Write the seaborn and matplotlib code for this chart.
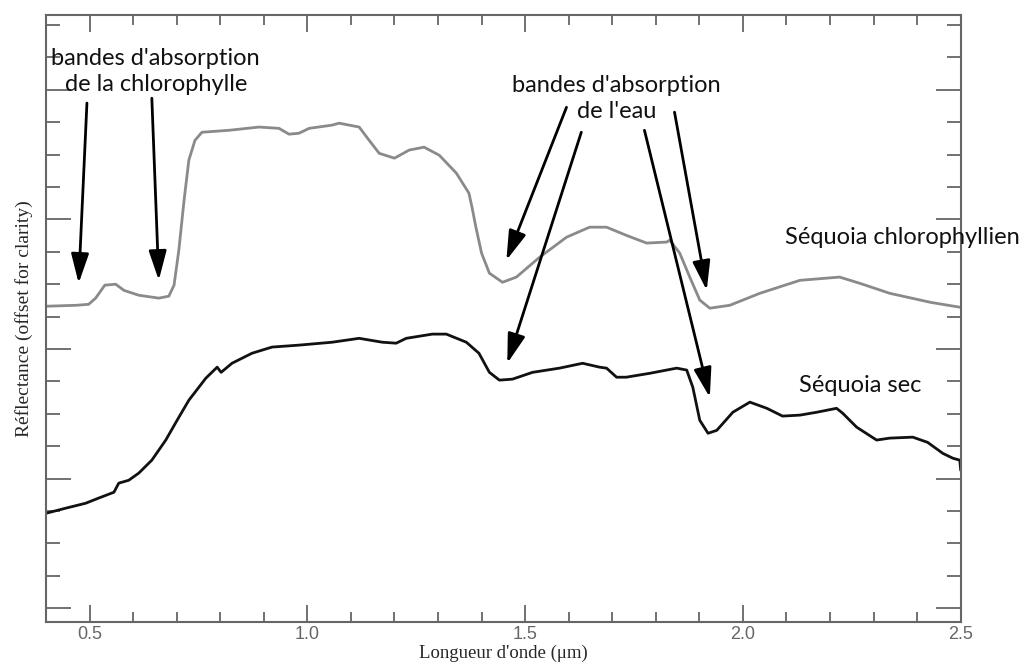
import matplotlib
matplotlib.use("Agg")
import matplotlib.pyplot as plt
import numpy as np
import seaborn as sns
from matplotlib.ticker import MultipleLocator

sns.set_theme(style="ticks")

# wavelength (um) and reflectance (arbitrary units, offset for clarity)
wl_green = [0.40, 0.47, 0.498, 0.514, 0.535, 0.560, 0.579, 0.613, 0.659, 0.682,
            0.694, 0.705, 0.717, 0.728, 0.742, 0.758, 0.820, 0.889, 0.935, 0.958,
            0.981, 1.004, 1.057, 1.073, 1.119, 1.142, 1.165, 1.200, 1.234, 1.268,
            1.303, 1.342, 1.371, 1.378, 1.387, 1.400, 1.418, 1.448, 1.480, 1.533,
            1.595, 1.648, 1.687, 1.732, 1.779, 1.825, 1.832, 1.855, 1.878, 1.901,
            1.924, 1.970, 2.039, 2.131, 2.222, 2.268, 2.337, 2.431, 2.498]
refl_green = [9.32, 9.35, 9.38, 9.57, 9.97, 10.0, 9.81, 9.66, 9.57, 9.63,
              9.97, 11.05, 12.59, 13.83, 14.44, 14.69, 14.75, 14.85, 14.81, 14.63,
              14.66, 14.81, 14.91, 14.97, 14.85, 14.44, 14.04, 13.89, 14.14, 14.23,
              13.98, 13.43, 12.81, 12.38, 11.76, 10.96, 10.34, 10.06, 10.22, 10.83,
              11.45, 11.76, 11.76, 11.51, 11.27, 11.30, 11.36, 10.96, 10.22, 9.51,
              9.26, 9.35, 9.72, 10.12, 10.22, 10.03, 9.72, 9.44, 9.29]

wl_dry = [0.40, 0.446, 0.491, 0.521, 0.556, 0.567, 0.590, 0.613, 0.643, 0.675,
          0.701, 0.728, 0.767, 0.793, 0.802, 0.827, 0.873, 0.919, 0.981, 1.057,
          1.119, 1.172, 1.204, 1.227, 1.287, 1.319, 1.365, 1.394, 1.418, 1.441,
          1.471, 1.517, 1.579, 1.632, 1.671, 1.687, 1.710, 1.732, 1.786, 1.848,
          1.871, 1.885, 1.901, 1.920, 1.940, 1.977, 2.016, 2.055, 2.091, 2.131,
          2.170, 2.215, 2.229, 2.261, 2.307, 2.337, 2.390, 2.424, 2.459, 2.482,
          2.498, 2.50]
refl_dry = [2.93, 3.09, 3.24, 3.40, 3.58, 3.86, 3.95, 4.17, 4.57, 5.19,
            5.80, 6.42, 7.10, 7.44, 7.28, 7.56, 7.87, 8.06, 8.12, 8.21,
            8.33, 8.21, 8.18, 8.33, 8.46, 8.46, 8.21, 7.87, 7.28, 7.04,
            7.07, 7.28, 7.41, 7.56, 7.44, 7.41, 7.13, 7.13, 7.25, 7.41,
            7.35, 6.82, 5.80, 5.40, 5.49, 6.05, 6.36, 6.17, 5.93, 5.96,
            6.05, 6.17, 6.02, 5.59, 5.19, 5.25, 5.28, 5.12, 4.78, 4.63,
            4.57, 4.26]

# arrows: (tail wl, tail refl, head wl, head refl)
chl_arrows = [(0.494, 15.59, 0.475, 10.03),
              (0.643, 15.74, 0.659, 10.12)]
water_arrows = [(1.595, 15.46, 1.457, 10.74),
                (1.629, 14.69, 1.459, 7.56),
                (1.774, 14.75, 1.924, 6.51),
                (1.843, 15.31, 1.917, 9.81)]

fig = plt.figure(figsize=(10.22, 6.64), dpi=100)
ax = fig.add_axes([0.045, 0.063, 0.895, 0.914])

sns.lineplot(x=wl_green, y=refl_green, color="#8a8a8a", lw=2, sort=False, ax=ax)
sns.lineplot(x=wl_dry, y=refl_dry, color="#111111", lw=2, sort=False, ax=ax)

ax.set_xlim(0.4, 2.5)
ax.set_ylim(-0.43, 18.3)

ax.xaxis.set_minor_locator(MultipleLocator(0.1))
ax.yaxis.set_major_locator(MultipleLocator(4))
ax.yaxis.set_minor_locator(MultipleLocator(1))
ax.set_xticks([0.5, 1.0, 1.5, 2.0, 2.5])
ax.set_xticklabels(["0.5", "1.0", "1.5", "2.0", "2.5"])
ax.tick_params(axis="both", which="both", direction="in", top=True, right=True,
               color="#666666", width=1.3)
ax.tick_params(axis="x", which="major", length=12, labelsize=13, labelcolor="#666666", pad=3)
ax.tick_params(axis="x", which="minor", length=7)
ax.tick_params(axis="y", which="major", length=18, labelleft=False)
ax.tick_params(axis="y", which="minor", length=10)
for lab in ax.get_xticklabels():
    lab.set_family("Liberation Sans")
for sp in ax.spines.values():
    sp.set_color("#666666")
    sp.set_linewidth(1.5)

ax.set_xlabel("Longueur d'onde (\u03bcm)", family="Liberation Serif", fontsize=13.5, labelpad=1)
ax.set_ylabel("R\u00e9flectance (offset for clarity)", family="Liberation Serif",
              fontsize=14, labelpad=6)

arrow_style = dict(arrowstyle="-|>,head_length=1.5,head_width=0.45", color="black", lw=2,
                   shrinkA=0, shrinkB=0)
for x0, y0, x1, y1 in chl_arrows + water_arrows:
    ax.annotate("", xy=(x1, y1), xytext=(x0, y0), arrowprops=arrow_style)

txt = dict(family="Lato", fontsize=17, color="#111111", ha="center", va="center",
           linespacing=1.3)
ax.text(0.652, 16.56, "bandes d'absorption\nde la chlorophylle", **txt)
ax.text(1.710, 15.74, "bandes d'absorption\nde l'eau", **txt)
ax.text(2.367, 11.45, "S\u00e9quoia chlorophyllien", **txt)
ax.text(2.270, 6.88, "S\u00e9quoia sec", **txt)

fig.savefig("out.png", dpi=100)
